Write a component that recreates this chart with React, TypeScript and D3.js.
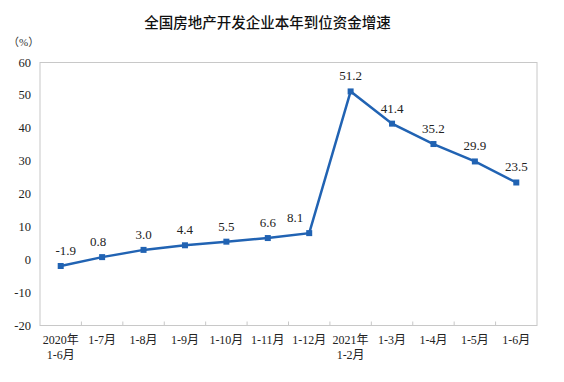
import React from "react";
import * as d3 from "d3";

const categories: string[][] = [
  ["2020年", "1-6月"],
  ["1-7月"],
  ["1-8月"],
  ["1-9月"],
  ["1-10月"],
  ["1-11月"],
  ["1-12月"],
  ["2021年", "1-2月"],
  ["1-3月"],
  ["1-4月"],
  ["1-5月"],
  ["1-6月"],
];
const values: number[] = [-1.9, 0.8, 3.0, 4.4, 5.5, 6.6, 8.1, 51.2, 41.4, 35.2, 29.9, 23.5];
const labelShift: number[] = [5, -4, 0, 0, 0, 0, -14, 0, 0, 0, 0, 0];
const yTicks: number[] = [60, 50, 40, 30, 20, 10, 0, -10, -20];
const title = "全国房地产开发企业本年到位资金增速";

const W = 564;
const H = 382;
const left = 40;
const right = 537;
const top = 62.5;
const bottom = 325.5;
const serif = "'Liberation Serif', 'DejaVu Serif', 'Noto Sans CJK SC', serif";
const lineColor = "#2163b3";

export default function App() {
  const x = d3
    .scaleBand<number>()
    .domain(values.map((_, i) => i))
    .range([left, right]);
  const y = d3.scaleLinear().domain([-20, 60]).range([bottom, top]);
  const cx = (i: number) => (x(i) as number) + x.bandwidth() / 2;
  const line = d3
    .line<number>()
    .x((_, i) => cx(i))
    .y((d) => y(d));
  const serifStyle = { fontFamily: serif };

  return (
    <svg
      width={W}
      height={H}
      style={{ position: "absolute", left: 0, top: 0, background: "#fff" }}
    >
      <text
        x={267.5}
        y={28}
        textAnchor="middle"
        fontSize={14.5}
        fontWeight={500}
        style={{ fontFamily: "'Noto Sans CJK SC', sans-serif" }}
        fill="#111"
      >
        {title}
      </text>
      <text x={8} y={46} fontSize={11} style={serifStyle} fill="#333">
        （%）
      </text>
      <rect
        x={left}
        y={top}
        width={right - left}
        height={bottom - top}
        fill="none"
        stroke="#c8c8c8"
        strokeWidth={1}
      />
      {values.map((_, i) =>
        i === 0 ? null : (
          <line
            key={"t" + i}
            x1={x(i) as number}
            x2={x(i) as number}
            y1={bottom}
            y2={bottom - 4}
            stroke="#c8c8c8"
          />
        )
      )}
      {yTicks.map((t) => (
        <text
          key={"y" + t}
          x={31}
          y={y(t) + 4}
          textAnchor="end"
          fontSize={12.5}
          style={serifStyle}
          fill="#222"
        >
          {t}
        </text>
      ))}
      {categories.map((c, i) => (
        <text
          key={"c" + i}
          x={cx(i)}
          y={344}
          textAnchor="middle"
          fontSize={12}
          style={serifStyle}
          fill="#222"
        >
          {c.map((s, j) => (
            <tspan key={j} x={cx(i)} dy={j === 0 ? 0 : 15}>
              {s}
            </tspan>
          ))}
        </text>
      ))}
      <path d={line(values) || ""} fill="none" stroke={lineColor} strokeWidth={2.5} />
      {values.map((v, i) => (
        <rect
          key={"m" + i}
          x={cx(i) - 3}
          y={y(v) - 3}
          width={6}
          height={6}
          fill={lineColor}
        />
      ))}
      {values.map((v, i) => (
        <text
          key={"l" + i}
          x={cx(i) + labelShift[i]}
          y={y(v) - 11}
          textAnchor="middle"
          fontSize={13}
          style={serifStyle}
          fill="#222"
        >
          {v.toFixed(1)}
        </text>
      ))}
    </svg>
  );
}
